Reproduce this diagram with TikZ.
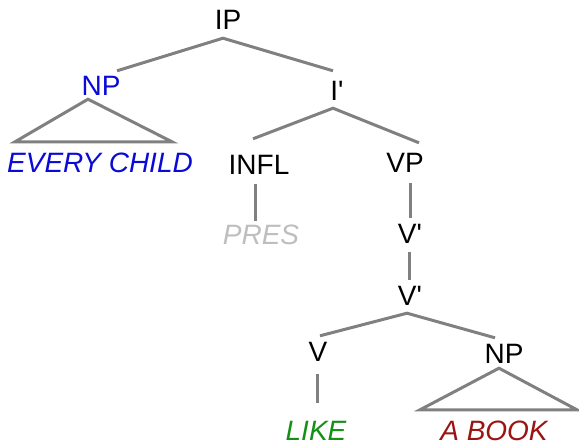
\documentclass[tikz,border=0pt]{standalone}
\usepackage{fontspec}
\setmainfont{Liberation Sans}
\definecolor{lineg}{RGB}{128,128,128}
\definecolor{npblue}{RGB}{10,10,215}
\definecolor{presg}{RGB}{190,190,190}
\definecolor{likeg}{RGB}{20,145,20}
\definecolor{bookr}{RGB}{155,20,20}
\tikzset{
  lab/.style={inner sep=0pt, text height=20pt, text depth=0pt, font=\fontsize{28}{30}\selectfont},
  word/.style={lab, font=\fontsize{28}{30}\selectfont\itshape},
  br/.style={draw=lineg, line width=3pt}
}
\begin{document}
\begin{tikzpicture}[x=1pt,y=-1pt]
\useasboundingbox (0,0) rectangle (579,447);
\node[lab] (ip) at (228,19) {IP};
\node[lab, text=npblue] (np1) at (101,85) {NP};
\node[lab] (ibar) at (337,90) {I\textquotesingle};
\node[word, text=npblue] (every) at (100,162) {EVERY CHILD};
\node[lab] (infl) at (259,164) {INFL};
\node[word, text=presg] (pres) at (261,234) {PRES};
\node[lab] (vp) at (405,162) {VP};
\node[lab] (vbar1) at (410,233) {V\textquotesingle};
\node[lab] (vbar2) at (410,295) {V\textquotesingle};
\node[lab] (v) at (318,351) {V};
\node[lab] (np2) at (504,353) {NP};
\node[word, text=likeg] (like) at (316,430) {LIKE};
\node[word, text=bookr] (book) at (494,430) {A BOOK};
% branches
\draw[br] ([shift={(16,-4)}]np1.north) -- ([shift={(-5,9)}]ip.south) -- ([shift={(-4,-9)}]ibar.north);
\draw[br] ([shift={(-13,4)}]np1.south) -- ([shift={(-85,-10)}]every.north) -- ([shift={(72,-10)}]every.north) -- cycle;
\draw[br] ([shift={(-6,-15)}]infl.north) -- ([shift={(-4,8)}]ibar.south) -- ([shift={(14,-9)}]vp.north);
\draw[br] ([shift={(-4,10)}]infl.south) -- ([shift={(-6,-3)}]pres.north);
\draw[br] ([shift={(5,11)}]vp.south) -- ([shift={(0,-5)}]vbar1.north);
\draw[br] ([shift={(-1,9)}]vbar1.south) -- ([shift={(-1,-5)}]vbar2.north);
\draw[br] ([shift={(2,-5)}]v.north) -- ([shift={(-3,8)}]vbar2.south) -- ([shift={(-9,-5)}]np2.north);
\draw[br] ([shift={(-1,13)}]v.south) -- ([shift={(1,-17)}]like.north);
\draw[br] ([shift={(-5,5)}]np2.south) -- ([shift={(-74,-10)}]book.north) -- ([shift={(83,-10)}]book.north) -- cycle;
\end{tikzpicture}
\end{document}
